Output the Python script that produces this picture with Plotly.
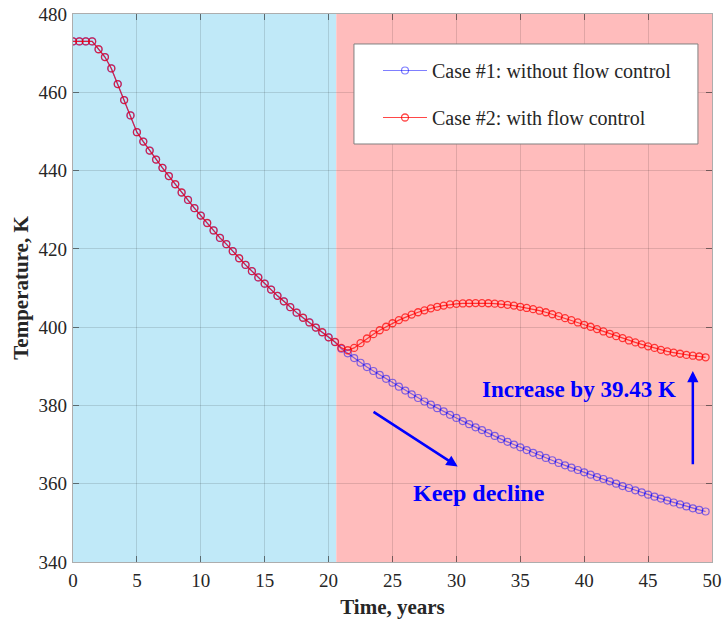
import plotly.graph_objects as go

# ---------------- data ----------------
time_years = [0, 0.5, 1, 1.5, 2, 2.5, 3, 3.5, 4, 4.5, 5, 5.5, 6, 6.5, 7, 7.5, 8, 8.5, 9, 9.5,
              10, 10.5, 11, 11.5, 12, 12.5, 13, 13.5, 14, 14.5, 15, 15.5, 16, 16.5, 17, 17.5,
              18, 18.5, 19, 19.5, 20, 20.5, 21, 21.5, 22, 22.5, 23, 23.5, 24, 24.5, 25, 25.5,
              26, 26.5, 27, 27.5, 28, 28.5, 29, 29.5, 30, 30.5, 31, 31.5, 32, 32.5, 33, 33.5,
              34, 34.5, 35, 35.5, 36, 36.5, 37, 37.5, 38, 38.5, 39, 39.5, 40, 40.5, 41, 41.5,
              42, 42.5, 43, 43.5, 44, 44.5, 45, 45.5, 46, 46.5, 47, 47.5, 48, 48.5, 49, 49.5]

# shared history before flow control (t = 0 ... 20.5)
temp_common = [473.0, 473.0, 473.0, 473.0, 471.0, 469.0, 466.1, 462.1, 458.0, 454.1,
               449.8, 447.4, 445.1, 442.8, 440.7, 438.6, 436.5, 434.4, 432.5, 430.4,
               428.5, 426.6, 424.7, 422.8, 421.2, 419.4, 417.6, 415.9, 414.3, 412.7,
               411.1, 409.6, 408.0, 406.6, 405.1, 403.7, 402.4, 401.2, 399.9, 398.7,
               397.4, 396.2]

# t = 21 ... 49.5
temp_case1_tail = [394.5, 393.3, 392.1, 390.9, 389.8, 388.8, 387.8, 386.8, 385.8, 384.8,
                   383.8, 382.8, 381.9, 381.0, 380.2, 379.3, 378.5, 377.6, 376.8, 376.0,
                   375.2, 374.4, 373.7, 372.9, 372.2, 371.4, 370.7, 370.0, 369.3, 368.6,
                   367.9, 367.3, 366.6, 366.0, 365.3, 364.7, 364.1, 363.5, 362.9, 362.3,
                   361.7, 361.2, 360.6, 360.0, 359.4, 358.9, 358.3, 357.8, 357.2, 356.7,
                   356.2, 355.7, 355.2, 354.7, 354.2, 353.7, 353.3, 352.9]

temp_case2_tail = [394.7, 394.1, 394.7, 395.9, 397.1, 398.2, 399.2, 400.1, 401.0, 401.8,
                   402.5, 403.2, 403.8, 404.3, 404.8, 405.2, 405.5, 405.8, 405.95, 406.05,
                   406.1, 406.15, 406.15, 406.1, 406.0, 405.9, 405.7, 405.5, 405.2, 404.9,
                   404.6, 404.2, 403.8, 403.3, 402.8, 402.3, 401.8, 401.2, 400.6, 400.1,
                   399.5, 398.9, 398.3, 397.7, 397.2, 396.6, 396.1, 395.6, 395.1, 394.7,
                   394.2, 393.8, 393.5, 393.2, 392.9, 392.7, 392.5, 392.3]

case1_temp = temp_common + temp_case1_tail
case2_temp = temp_common + temp_case2_tail

case_names = ["Case #1: without flow control", "Case #2: with flow control"]

phase_start = 0
phase_switch = 20.6
phase_end = 50

x_ticks = [0, 5, 10, 15, 20, 25, 30, 35, 40, 45, 50]
y_ticks = [340, 360, 380, 400, 420, 440, 460, 480]

# annotation anchors (data units)
increase_label = "Increase by 39.43 K"
decline_label = "Keep decline"
increase_text_pos = (39.6, 384.0)
decline_text_pos = (31.8, 357.6)
decline_arrow = ((23.4, 378.6), (30.1, 364.4))    # tail, head
increase_arrow = ((48.5, 364.6), (48.5, 388.8))   # tail, head

# ---------------- figure ----------------
SERIF = "Liberation Serif, Times New Roman, serif"
fig = go.Figure()

fig.add_trace(go.Scatter(
    x=time_years, y=case1_temp, name=case_names[0], mode="lines+markers",
    line=dict(color="rgba(0,0,255,0.5)", width=1.2),
    marker=dict(symbol="circle-open", size=7, color="rgba(0,0,255,0.5)",
                line=dict(width=1.2, color="rgba(0,0,255,0.5)")),
    legendgroup="g1",
))
fig.add_trace(go.Scatter(
    x=time_years, y=case2_temp, name=case_names[1], mode="lines+markers",
    line=dict(color="rgba(255,0,0,0.72)", width=1.2),
    marker=dict(symbol="circle-open", size=7, color="rgba(255,0,0,0.72)",
                line=dict(width=1.3, color="rgba(255,0,0,0.72)")),
    legendgroup="g2",
))

# phase background regions
fig.add_shape(type="rect", xref="x", yref="y", x0=phase_start, x1=phase_switch,
              y0=y_ticks[0], y1=y_ticks[-1], fillcolor="#c0e9f8", line_width=0, layer="below")
fig.add_shape(type="rect", xref="x", yref="y", x0=phase_switch, x1=phase_end,
              y0=y_ticks[0], y1=y_ticks[-1], fillcolor="#ffbcbc", line_width=0, layer="below")

# legend frame (MATLAB-like padded box)
fig.add_shape(type="rect", xref="paper", yref="paper", x0=0.4397, x1=0.978, y0=0.7628, y1=0.9453,
              fillcolor="white", line=dict(color="#808080", width=1), layer="above")

# text annotations
fig.add_annotation(x=increase_text_pos[0], y=increase_text_pos[1], text="<b>" + increase_label + "</b>",
                   showarrow=False, font=dict(family=SERIF, size=23, color="#0000ff"))
fig.add_annotation(x=decline_text_pos[0], y=decline_text_pos[1], text="<b>" + decline_label + "</b>",
                   showarrow=False, font=dict(family=SERIF, size=24, color="#0000ff"))

for (tail, head) in (decline_arrow, increase_arrow):
    fig.add_annotation(x=head[0], y=head[1], ax=tail[0], ay=tail[1], xref="x", yref="y",
                       axref="x", ayref="y", text="", showarrow=True, arrowhead=2,
                       arrowsize=0.9, arrowwidth=2.5, arrowcolor="#0000ff")

axis_common = dict(
    showline=True, linecolor="rgba(40,40,40,0.38)", linewidth=1.3, mirror="ticks",
    ticks="inside", ticklen=6, tickcolor="rgba(40,40,40,0.6)", tickwidth=1,
    showgrid=True, gridcolor="rgba(0,0,0,0.12)", gridwidth=1,
    zeroline=False, automargin=False,
    tickfont=dict(family=SERIF, size=19, color="#262626"),
)

fig.update_xaxes(range=[phase_start, phase_end], tickvals=x_ticks,
                 title=dict(text="<b>Time, years</b>", font=dict(family=SERIF, size=21, color="#262626"),
                            standoff=9),
                 ticklabelstandoff=1, **axis_common)
fig.update_yaxes(range=[y_ticks[0], y_ticks[-1]], tickvals=y_ticks,
                 title=dict(text="<b>Temperature, K</b>", font=dict(family=SERIF, size=21, color="#262626"),
                            standoff=4),
                 ticklabelstandoff=1, **axis_common)

fig.update_layout(
    width=722, height=621,
    margin=dict(l=73, r=10, t=14, b=59),
    paper_bgcolor="white", plot_bgcolor="white",
    font=dict(family=SERIF, color="#262626"),
    showlegend=True,
    legend=dict(x=0.4773, y=0.9325, xanchor="left", yanchor="top",
                bgcolor="rgba(0,0,0,0)", borderwidth=0,
                font=dict(family=SERIF, size=20, color="#262626"),
                itemwidth=44, tracegroupgap=18),
)

fig.write_html("out.html", config={"displayModeBar": False},
               post_script="document.body.style.margin='0';")
